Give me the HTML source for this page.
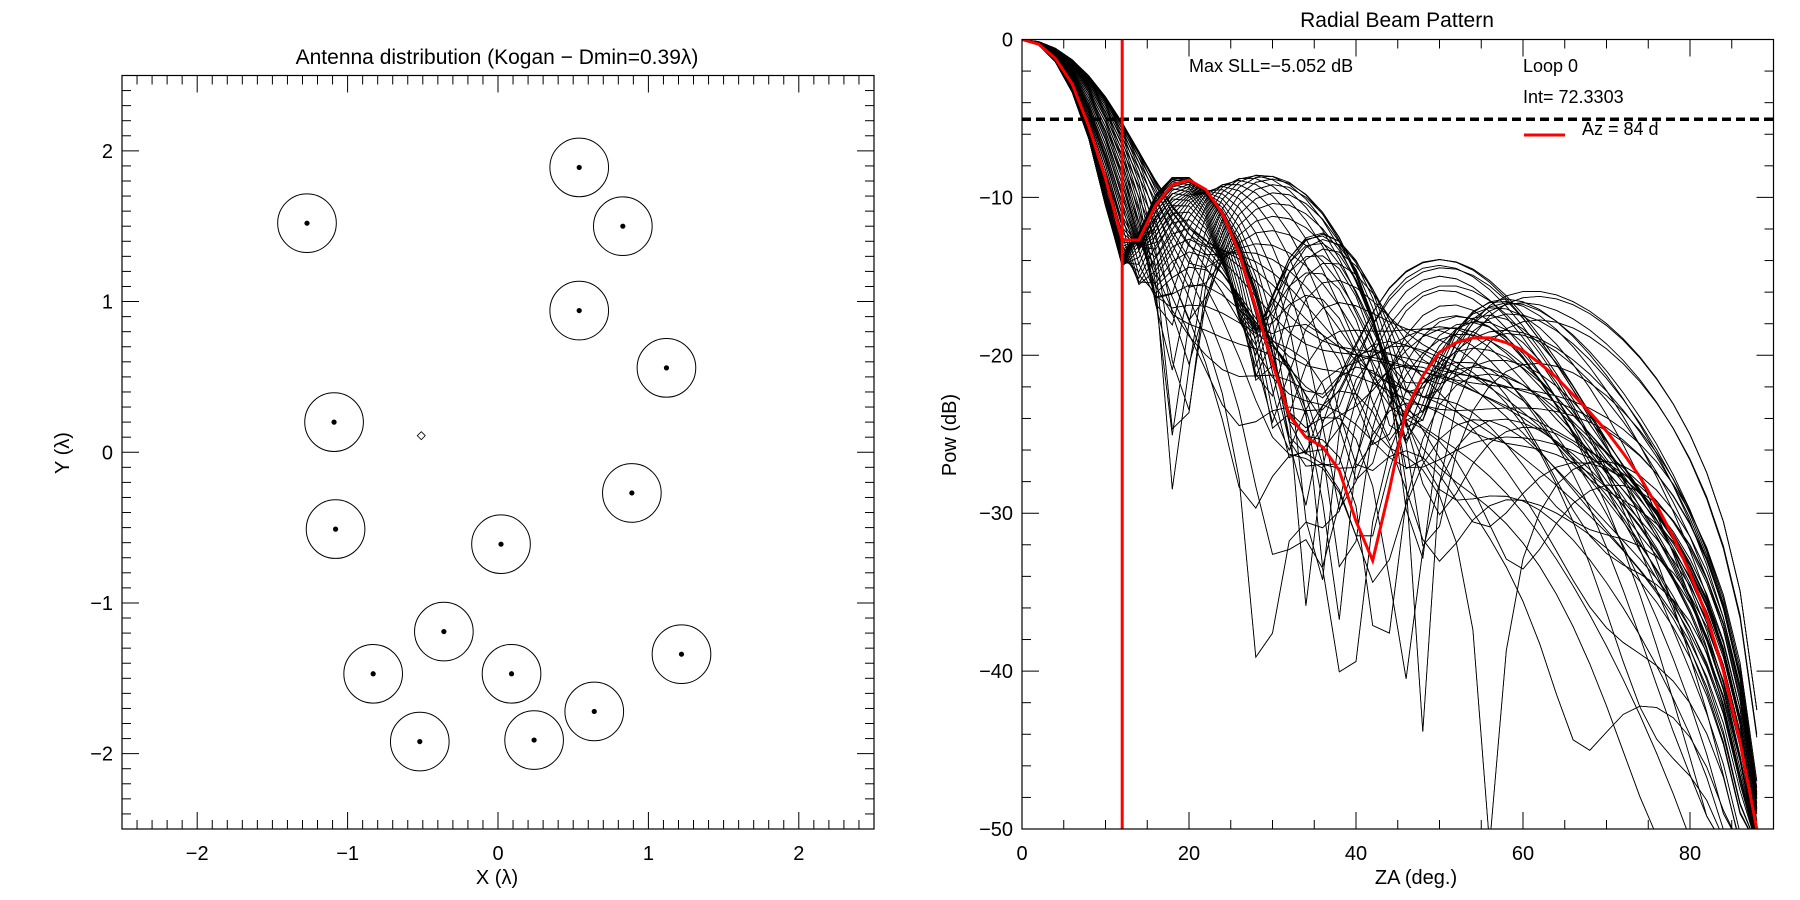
<!DOCTYPE html>
<html><head><meta charset="utf-8">
<style>
html,body{margin:0;padding:0;background:#fff;width:1800px;height:900px;overflow:hidden;}
svg{display:block;font-family:"Liberation Sans","DejaVu Sans",sans-serif;}
</style></head>
<body>
<svg id="fig" width="1800" height="900" viewBox="0 0 1800 900" xmlns="http://www.w3.org/2000/svg">
<defs><clipPath id="clipR"><rect x="1022" y="39.5" width="751.5" height="789.5"/></clipPath></defs>
<rect x="0" y="0" width="1800" height="900" fill="#fff"/>
<g id="left"></g>
<g id="right"></g>
</svg>
<script>
// ---- Antenna distribution data ----
const antX = [0.54,-1.27,0.83,0.54,1.12,-1.09,0.89,-1.08,0.02,-0.36,-0.83,0.09,1.22,0.64,-0.52,0.24];
const antY = [1.89,1.52,1.50,0.94,0.56,0.20,-0.27,-0.51,-0.61,-1.19,-1.47,-1.47,-1.34,-1.72,-1.92,-1.91];
const centerX = [-0.51];
const centerY = [0.11];
const dmin = [0.39];
const xTicks = [-2,-1,0,1,2];
const yTicks = [-2,-1,0,1,2];

// ---- Beam pattern data ----
const zaTicks = [0,20,40,60,80];
const powTicks = [0,-10,-20,-30,-40,-50];
const redZA = [0,2,4,6,8,10,12,14,16,18,20,22,24,26,28,30,32,34,36,38,40,42,44,46,48,50,52,54,56,58,60,62,64,66,68,70,72,74,76,78,80,82,84,86,88];
const redPow = [0,-0.3,-1.2,-2.8,-5.5,-8.8,-12.7,-12.7,-10.5,-9.2,-8.9,-9.5,-11,-13.5,-17,-20.5,-23.8,-25.2,-25.8,-27.3,-30.5,-33,-28.5,-23.5,-21.3,-19.8,-19.2,-18.9,-18.9,-19.2,-19.7,-20.5,-21.4,-22.5,-23.6,-24.8,-26.2,-27.7,-29.5,-31.5,-33.8,-36.5,-40,-44.5,-50];
const maxSLL = [-5.052];
const cutZA = [12];
const azimuths = Array.from({length:120},(_, i)=>i*3);
const zaSamples = Array.from({length:45},(_, i)=>i*2);

const NS="http://www.w3.org/2000/svg";
function el(tag, attrs, parent){const e=document.createElementNS(NS,tag);for(const k in attrs)e.setAttribute(k,attrs[k]);parent.appendChild(e);return e;}
function txt(parent,x,y,s,size,anchor,rot){const t=el('text',{x:x,y:y,'font-size':size,'text-anchor':anchor||'middle',fill:'#000'},parent);if(rot)t.setAttribute('transform',`rotate(${rot} ${x} ${y})`);t.textContent=s;return t;}

// ---------- LEFT PLOT ----------
const L=document.getElementById('left');
const lx0=122,lx1=874,ly0=75.5,ly1=829;
const sxL=v=>lx0+(v+2.5)/5*(lx1-lx0);
const syL=v=>ly1-(v+2.5)/5*(ly1-ly0);
let r=el('rect',{x:lx0,y:ly0,width:lx1-lx0,height:ly1-ly0,fill:'none',stroke:'#000','stroke-width':1.2},L);


for(let i=-25;i<=25;i++){
  const v=i/10, major=(i%10===0), len=major?17:9;
  const x=sxL(v), y=syL(v);
  el('line',{x1:x,y1:ly1,x2:x,y2:ly1-len,stroke:'#000','stroke-width':1},L);
  el('line',{x1:x,y1:ly0,x2:x,y2:ly0+len,stroke:'#000','stroke-width':1},L);
  el('line',{x1:lx0,y1:y,x2:lx0+len,y2:y,stroke:'#000','stroke-width':1},L);
  el('line',{x1:lx1,y1:y,x2:lx1-len,y2:y,stroke:'#000','stroke-width':1},L);
}
xTicks.forEach(v=>{const t=txt(L,sxL(v),860,(v<0?'\u2212':'')+Math.abs(v),20,'middle');
 
 });
yTicks.forEach(v=>{const t=txt(L,113,syL(v)+7,(v<0?'\u2212':'')+Math.abs(v),20,'end');
 
 });
let t1=txt(L,497,64,'Antenna distribution (Kogan \u2212 Dmin=0.39\u03bb)',21,'middle');


let t2=txt(L,497,884,'X (\u03bb)',20,'middle');


let t3=txt(L,69,453,'Y (\u03bb)',20,'middle',-90);


const pxPerUnit=(lx1-lx0)/5;
antX.forEach((x,i)=>{
  const c=el('circle',{cx:sxL(x),cy:syL(antY[i]),r:dmin[0]/2*pxPerUnit,fill:'none',stroke:'#000','stroke-width':1},L);
  
  
  const d=el('circle',{cx:sxL(x),cy:syL(antY[i]),r:2.6,fill:'#000'},L);
  
  
});
{const cx=sxL(centerX[0]),cy=syL(centerY[0]);
 const p=el('polygon',{points:`${cx},${cy-4} ${cx+4},${cy} ${cx},${cy+4} ${cx-4},${cy}`,fill:'none',stroke:'#000','stroke-width':0.8},L);
 
 }

// ---------- RIGHT PLOT ----------
const R=document.getElementById('right');
const rx0=1022,rx1=1773.5,ry0=39.5,ry1=829;
const sxR=v=>rx0+v/90*(rx1-rx0);
const syR=v=>ry0+(-v)/50*(ry1-ry0);
const curves=el('g',{'clip-path':'url(#clipR)'},R);


azimuths.forEach(az=>{
  const ph=az*Math.PI/180; const pts=[];
  zaSamples.forEach(za=>{
    const th=za*Math.PI/180, s=Math.sin(th);
    let re=0,im=0;
    antX.forEach((x,i)=>{const a=2*Math.PI*s*(x*Math.cos(ph)+antY[i]*Math.sin(ph));re+=Math.cos(a);im+=Math.sin(a);});
    let p=(re*re+im*im)/(antX.length*antX.length)*Math.pow(Math.cos(th),2.5);
    let db=10*Math.log10(Math.max(p,1e-9)); if(db<-51)db=-51;
    pts.push(sxR(za).toFixed(1)+','+syR(db).toFixed(1));
  });
  const pl=el('polyline',{points:pts.join(' '),fill:'none',stroke:'#000','stroke-width':0.8},curves);
  
  
});
let dl=el('line',{x1:rx0,y1:syR(maxSLL[0]),x2:rx1,y2:syR(maxSLL[0]),stroke:'#000','stroke-width':3.5,'stroke-dasharray':'9,5'},R);


let rp=el('polyline',{points:redZA.map((z,i)=>sxR(z)+','+syR(redPow[i])).join(' '),fill:'none',stroke:'#ff0000','stroke-width':3,'clip-path':'url(#clipR)'},R);


let vl=el('line',{x1:sxR(cutZA[0]),y1:ry0,x2:sxR(cutZA[0]),y2:ry1,stroke:'#ff0000','stroke-width':3},R);


let fr=el('rect',{x:rx0,y:ry0,width:rx1-rx0,height:ry1-ry0,fill:'none',stroke:'#000','stroke-width':1.2},R);


for(let v=0;v<=90;v+=5){const len=(v%20===0)?17:9,x=sxR(v);
  el('line',{x1:x,y1:ry1,x2:x,y2:ry1-len,stroke:'#000','stroke-width':1},R);
  el('line',{x1:x,y1:ry0,x2:x,y2:ry0+len,stroke:'#000','stroke-width':1},R);}
for(let v=0;v>=-50;v-=2){const len=(v%10===0)?17:9,y=syR(v);
  el('line',{x1:rx0,y1:y,x2:rx0+len,y2:y,stroke:'#000','stroke-width':1},R);
  el('line',{x1:rx1,y1:y,x2:rx1-len,y2:y,stroke:'#000','stroke-width':1},R);}
zaTicks.forEach(v=>{const t=txt(R,sxR(v),860,String(v),20,'middle');
 
 });
powTicks.forEach(v=>{const t=txt(R,1013,syR(v)+7,(v<0?'\u2212':'')+Math.abs(v),20,'end');
 
 });
let rt=txt(R,1397,27,'Radial Beam Pattern',21,'middle');


let rxT=txt(R,1416,884,'ZA (deg.)',20,'middle');


let ryT=txt(R,956,435,'Pow (dB)',20,'middle',-90);


let a1=txt(R,1189,72,'Max SLL=\u22125.052 dB',18,'start');


let a2=txt(R,1523,72,'Loop 0',18,'start');


let a3=txt(R,1523,103,'Int= 72.3303',18,'start');


let lg=el('line',{x1:1524,y1:135,x2:1565,y2:135,stroke:'#ff0000','stroke-width':3},R);


let lt=txt(R,1582,135,'Az = 84 d',18,'start');


</script>
</body></html>
